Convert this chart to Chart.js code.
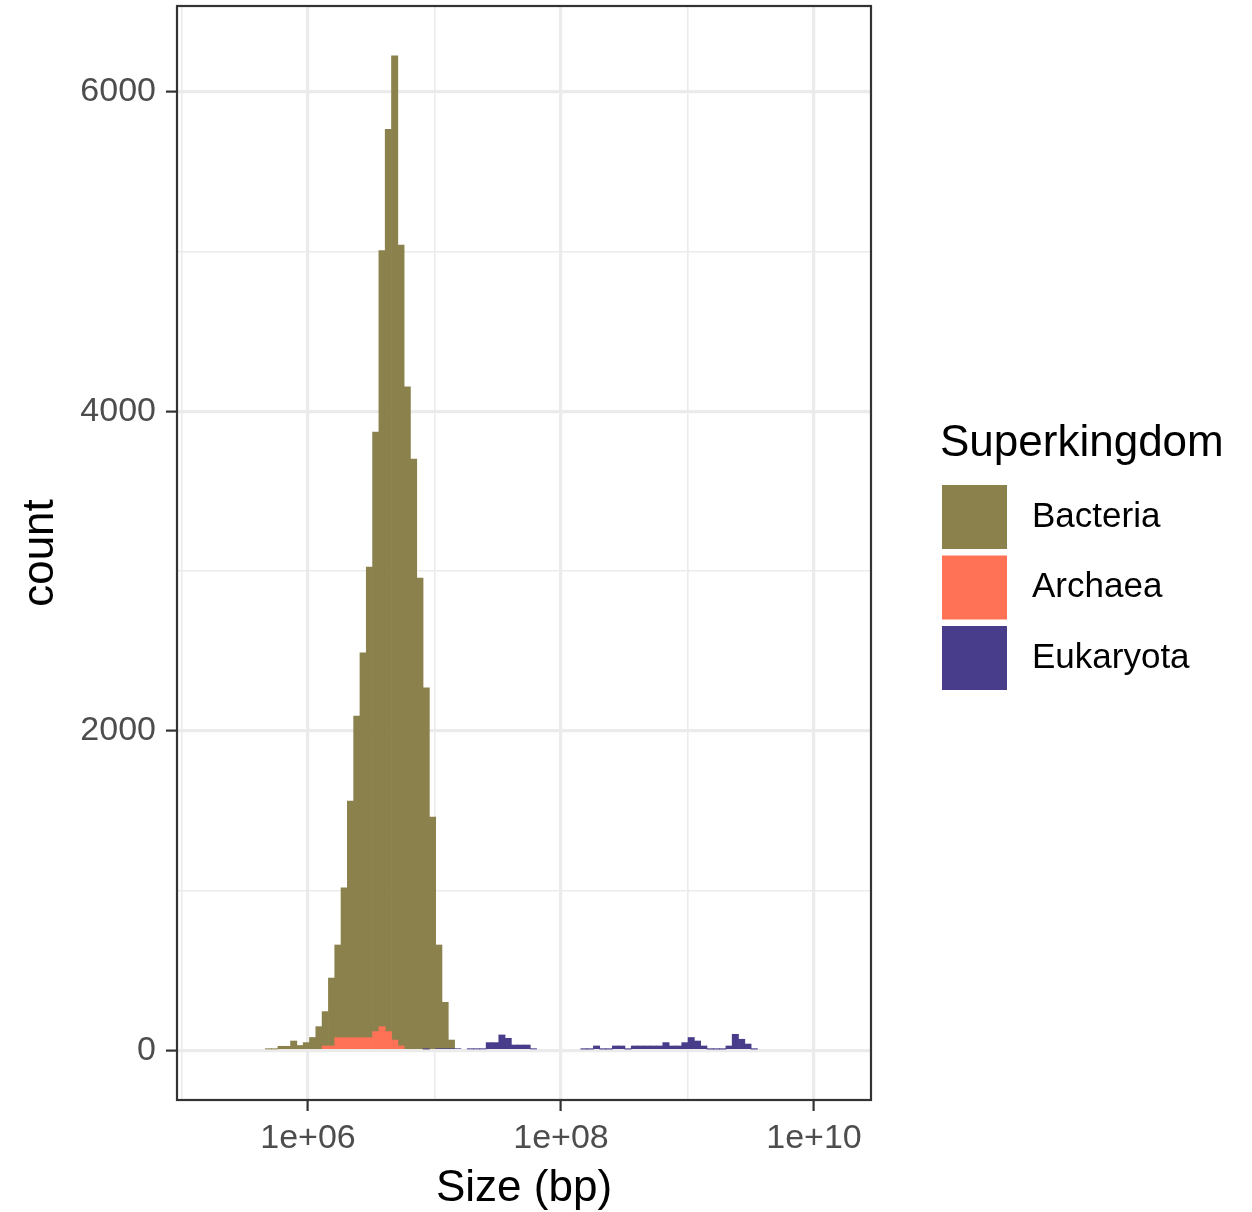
<!DOCTYPE html>
<html>
<head>
<meta charset="utf-8">
<script src="https://cdn.jsdelivr.net/npm/chart.js@4/dist/chart.umd.min.js"></script>
<style>
  html, body { margin: 0; padding: 0; background: #ffffff; }
  #wrap { position: relative; width: 1252px; height: 1212px; }
</style>
</head>
<body>
<div id="wrap"><canvas id="chart" width="1252" height="1212"></canvas></div>
<script>
// Genome size histogram: 100 equal-width bins on log10(bp)
const binStart = 5.2135;   // log10 of the first break
const binWidth = 0.04988;  // log10 width of each bin

// Counts per bin (bins 0..99)
const bacteria = [
  0, 0, 0, 0, 0, 0, 0, 0, 0, 8,
  8, 25, 25, 58, 30, 48, 80, 148, 215, 425,
  580, 937, 1481, 2013, 2409, 2946, 3753, 4857, 5648, 6161,
  5013, 4152, 3701, 2956, 2260, 1460, 649, 290, 54, 0,
  0, 0, 0, 0, 0, 0, 0, 0, 0, 0,
  0, 0, 0, 0, 0, 0, 0, 0, 0, 0,
  0, 0, 0, 0, 0, 0, 0, 0, 0, 0,
  0, 0, 0, 0, 0, 0, 0, 0, 0, 0,
  0, 0, 0, 0, 0, 0, 0, 0, 0, 0,
  0, 0, 0, 0, 0, 0, 0, 0, 0, 0
];
const archaea = [
  0, 0, 0, 0, 0, 0, 0, 0, 0, 0,
  0, 0, 0, 0, 0, 0, 0, 0, 27, 27,
  79, 79, 79, 79, 79, 79, 117, 148, 117, 64,
  27, 0, 0, 0, 0, 0, 0, 0, 0, 0,
  0, 0, 0, 0, 0, 0, 0, 0, 0, 0,
  0, 0, 0, 0, 0, 0, 0, 0, 0, 0,
  0, 0, 0, 0, 0, 0, 0, 0, 0, 0,
  0, 0, 0, 0, 0, 0, 0, 0, 0, 0,
  0, 0, 0, 0, 0, 0, 0, 0, 0, 0,
  0, 0, 0, 0, 0, 0, 0, 0, 0, 0
];
const eukaryota = [
  0, 0, 0, 0, 0, 0, 0, 0, 0, 0,
  0, 0, 0, 0, 0, 0, 0, 0, 0, 0,
  0, 0, 0, 0, 0, 0, 0, 0, 0, 0,
  0, 0, 0, 0, 8, 0, 10, 10, 10, 10,
  0, 8, 8, 8, 48, 48, 96, 75, 33, 33,
  33, 8, 0, 0, 0, 0, 0, 0, 0, 7,
  7, 27, 7, 7, 27, 27, 7, 27, 27, 27,
  27, 27, 48, 27, 27, 48, 80, 58, 27, 7,
  7, 7, 27, 100, 69, 39, 7, 0, 0, 0,
  0, 0, 0, 0, 0, 0, 0, 0, 0, 0
];

const seriesNames = ['Bacteria', 'Archaea', 'Eukaryota'];
const seriesColors = ['#8B814C', '#FF7256', '#483D8B'];

const xTickValues = [5, 6, 7, 8, 9, 10];
const xTickLabels = { 6: '1e+06', 8: '1e+08', 10: '1e+10' };
const yTickValues = [0, 1000, 2000, 3000, 4000, 5000, 6000];
const yTickLabels = { 0: '0', 2000: '2000', 4000: '4000', 6000: '6000' };

const FONT = "'Liberation Sans', Arial, Helvetica, sans-serif";
const GRID = '#EBEBEB';
const INK = '#333333';

// bin centres on the log10 axis
const nBins = bacteria.length;
const centres = bacteria.map((_, i) => binStart + binWidth * (i + 0.5));
const toPoints = counts => counts
  .map((c, i) => ({ x: centres[i], y: c }))
  .filter(p => p.y > 0);

// axis limits: full bin range with 5% expansion on each side
const binEnd = binStart + binWidth * nBins;
const xSpan = binEnd - binStart;
const xMin = binStart - 0.05 * xSpan;
const xMax = binEnd + 0.05 * xSpan;
const totals = bacteria.map((b, i) => b + archaea[i] + eukaryota[i]);
const yTop = Math.max(...totals);
const yMin = -0.05 * yTop;
const yMax = 1.05 * yTop;

const isMajorX = v => v % 2 === 0;
const isMajorY = v => v % 2000 === 0;

// ggplot-like panel border on top of the bars
const panelBorder = {
  id: 'panelBorder',
  afterDatasetsDraw(chart) {
    const { ctx, chartArea: a } = chart;
    ctx.save();
    ctx.strokeStyle = INK;
    ctx.lineWidth = 2.2;
    ctx.strokeRect(a.left, a.top, a.right - a.left, a.bottom - a.top);
    ctx.restore();
  }
};

// fill legend on the right, listed top to bottom as Bacteria, Archaea, Eukaryota
const fillLegend = {
  id: 'fillLegend',
  afterDraw(chart) {
    const { ctx } = chart;
    ctx.save();
    ctx.fillStyle = '#000000';
    ctx.textAlign = 'left';
    ctx.textBaseline = 'alphabetic';
    ctx.font = `44px ${FONT}`;
    ctx.fillText('Superkingdom', 940, 456);
    const keyX = 942, keyTop = 485, pitch = 70.5, keyW = 65, keyH = 64;
    ctx.font = `35px ${FONT}`;
    ctx.textBaseline = 'middle';
    seriesNames.forEach((name, i) => {
      const ds = chart.data.datasets.find(d => d.label === name);
      const y = keyTop + pitch * i;
      ctx.fillStyle = ds.backgroundColor;
      ctx.fillRect(keyX, y, keyW, keyH);
      ctx.fillStyle = '#000000';
      ctx.fillText(name, 1032, y + keyH / 2);
    });
    ctx.restore();
  }
};

Chart.defaults.font.family = FONT;

new Chart(document.getElementById('chart'), {
  type: 'bar',
  data: {
    // stacked bottom to top: Eukaryota, Archaea, Bacteria
    datasets: [
      { label: 'Eukaryota', data: toPoints(eukaryota), backgroundColor: seriesColors[2] },
      { label: 'Archaea', data: toPoints(archaea), backgroundColor: seriesColors[1] },
      { label: 'Bacteria', data: toPoints(bacteria), backgroundColor: seriesColors[0] }
    ]
  },
  options: {
    responsive: false,
    animation: false,
    devicePixelRatio: 1,
    layout: { padding: { top: 6, right: 381, left: 0, bottom: 0 } },
    datasets: {
      bar: { barPercentage: 1, categoryPercentage: 1, borderWidth: 0 }
    },
    plugins: {
      legend: { display: false },
      tooltip: { enabled: false }
    },
    scales: {
      x: {
        type: 'linear',
        offset: false,
        stacked: true,
        min: xMin,
        max: xMax,
        afterBuildTicks: s => { s.ticks = xTickValues.map(v => ({ value: v })); },
        afterFit: s => {
          s.height = 112;
          s.paddingLeft = 0;
          s.paddingRight = 0;
        },
        border: { display: false },
        grid: {
          offset: false,
          color: GRID,
          lineWidth: c => (c.tick && isMajorX(c.tick.value)) ? 3.2 : 1.6,
          drawTicks: true,
          tickLength: 11,
          tickWidth: 2.2,
          tickColor: c => (c.tick && isMajorX(c.tick.value)) ? INK : 'rgba(0,0,0,0)'
        },
        ticks: {
          autoSkip: false,
          maxRotation: 0,
          padding: 7,
          color: '#4D4D4D',
          font: { size: 34 },
          callback: v => xTickLabels[v] ?? ''
        },
        title: {
          display: true,
          text: 'Size (bp)',
          color: '#000000',
          font: { size: 44, lineHeight: 1.0 },
          padding: { top: 0, bottom: 1 }
        }
      },
      y: {
        type: 'linear',
        stacked: true,
        min: yMin,
        max: yMax,
        afterBuildTicks: s => { s.ticks = yTickValues.map(v => ({ value: v })); },
        afterFit: s => {
          s.width = 177;
          s.paddingTop = 0;
          s.paddingBottom = 0;
        },
        border: { display: false },
        grid: {
          color: GRID,
          lineWidth: c => (c.tick && isMajorY(c.tick.value)) ? 3.2 : 1.6,
          drawTicks: true,
          tickLength: 11,
          tickWidth: 2.2,
          tickColor: c => (c.tick && isMajorY(c.tick.value)) ? INK : 'rgba(0,0,0,0)'
        },
        ticks: {
          autoSkip: false,
          padding: 10,
          color: '#4D4D4D',
          font: { size: 34 },
          callback: v => yTickLabels[v] ?? ''
        },
        title: {
          display: true,
          text: 'count',
          color: '#000000',
          font: { size: 44, lineHeight: 1.2 },
          padding: { top: 14, bottom: 0 }
        }
      }
    }
  },
  plugins: [panelBorder, fillLegend]
});
</script>
</body>
</html>
